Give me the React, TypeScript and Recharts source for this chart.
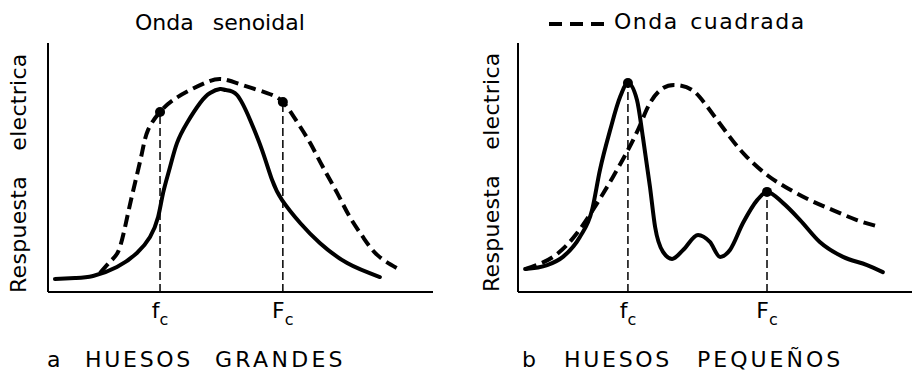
import { LineChart, Line, XAxis, YAxis, ReferenceLine, ReferenceDot } from "recharts";

const FONT = "'DejaVu Sans', sans-serif";

// x and y in 0-100 units of each plot box
// a: huesos grandes
const aSineX = [1.8, 7.0, 11.7, 17.9, 23.1, 26.5, 28.6, 29.9, 31.7, 33.5, 36.1, 39.5, 42.1, 44.7, 46.2, 49.1, 52.5, 55.6, 58.2, 60.8, 65.5, 70.6, 77.7, 86.2];
const aSineY = [5.2, 5.6, 6.4, 10.0, 15.7, 22.1, 30.1, 39.8, 50.2, 59.8, 67.9, 75.9, 79.9, 81.5, 81.1, 79.1, 69.1, 57.0, 45.0, 36.9, 27.7, 19.7, 11.6, 6.0];
const aSquareX = [13.5, 16.6, 18.7, 20.8, 22.6, 24.4, 26.0, 29.1, 32.5, 36.9, 41.3, 45.2, 50.6, 56.9, 61.0, 64.7, 68.1, 71.4, 75.1, 78.4, 81.8, 85.5, 90.6];
const aSquareY = [7.6, 12.9, 18.1, 31.7, 43.8, 55.8, 65.1, 72.3, 77.1, 81.1, 84.3, 85.5, 83.1, 79.9, 76.3, 68.3, 59.8, 50.2, 39.8, 30.1, 22.1, 14.9, 9.6];
const aTicks = [29.1, 61.0];
const aDotY = [72.3, 76.3];

// b: huesos pequenos
const bSineX = [1.8, 7.4, 11.4, 15.7, 18.8, 20.8, 23.4, 25.9, 27.9, 30.2, 31.7, 33.5, 34.8, 36.8, 39.1, 41.9, 45.7, 48.7, 51.3, 53.8, 57.1, 60.7, 63.2, 67.3, 71.6, 76.6, 82.5, 88.6, 92.6];
const bSineY = [9.2, 10.8, 14.1, 22.1, 32.9, 49.0, 65.1, 78.3, 83.9, 77.1, 62.2, 42.2, 26.1, 16.1, 13.3, 16.9, 22.9, 20.1, 14.1, 16.9, 27.7, 36.9, 40.2, 35.7, 28.9, 20.1, 14.1, 10.8, 8.0];
const bSquareX = [1.8, 8.9, 15.0, 20.1, 24.1, 27.9, 31.0, 33.5, 36.8, 40.4, 44.2, 48.0, 53.8, 58.1, 63.2, 68.3, 74.1, 79.9, 86.0, 91.9];
const bSquareY = [9.2, 14.1, 23.7, 35.7, 46.2, 57.0, 67.1, 75.9, 81.9, 83.1, 81.1, 74.5, 62.2, 54.2, 47.0, 41.8, 36.9, 32.9, 28.9, 26.1];
const bTicks = [27.9, 63.2];
const bDotY = [83.9, 40.2];

const tickLabels = ["f", "F"];
const tickSub = "c";

const toPoints = (xs: number[], ys: number[]) => xs.map((x, i) => ({ x, y: ys[i] }));

function FreqTick(props: any) {
  const { x, y, index } = props;
  return (
    <text x={x} y={y + 26} textAnchor="middle" fontFamily={FONT} fontSize={22} fill="#000">
      {tickLabels[index]}
      <tspan fontSize={16} dy={7}>{tickSub}</tspan>
    </text>
  );
}

function Panel({ sine, square, ticks, dotY, margin, sineCurve }: any) {
  return (
    <LineChart width={457} height={373} margin={margin}>
      <XAxis
        type="number"
        dataKey="x"
        domain={[0, 100]}
        ticks={ticks}
        interval={0}
        tickLine={false}
        tickSize={0}
        tickMargin={0}
        height={30}
        axisLine={{ stroke: "#000", strokeWidth: 2 }}
        tick={(p: any) => <FreqTick {...p} />}
        allowDataOverflow
      />
      <YAxis
        type="number"
        dataKey="y"
        domain={[0, 100]}
        tick={false}
        tickLine={false}
        width={1}
        axisLine={{ stroke: "#000", strokeWidth: 2 }}
        allowDataOverflow
      />
      {ticks.map((t: number, i: number) => (
        <ReferenceLine
          key={"l" + i}
          segment={[{ x: t, y: 0 }, { x: t, y: dotY[i] }]}
          stroke="#000"
          strokeWidth={1.5}
          strokeDasharray="8 4"
        />
      ))}
      <Line data={square} dataKey="y" type="natural" stroke="#000" strokeWidth={4} strokeDasharray="12 6" dot={false} isAnimationActive={false} />
      <Line data={sine} dataKey="y" type={sineCurve} stroke="#000" strokeWidth={4} strokeLinecap="round" dot={false} isAnimationActive={false} />
      {ticks.map((t: number, i: number) => (
        <ReferenceDot key={"d" + i} x={t} y={dotY[i]} r={5} fill="#000" stroke="none" />
      ))}
    </LineChart>
  );
}

export default function App() {
  const txt = { fontFamily: FONT, fontSize: 22, fill: "#000" };
  return (
    <div style={{ position: "absolute", left: 0, top: 0, width: 914, height: 373, background: "#fff" }}>
      <div style={{ position: "absolute", left: 0, top: 0 }}>
        <Panel
          sine={toPoints(aSineX, aSineY)}
          square={toPoints(aSquareX, aSquareY)}
          ticks={aTicks}
          dotY={aDotY}
          sineCurve="natural"
          margin={{ top: 43, right: 24, bottom: 51, left: 47 }}
        />
      </div>
      <div style={{ position: "absolute", left: 457, top: 0 }}>
        <Panel
          sine={toPoints(bSineX, bSineY)}
          square={toPoints(bSquareX, bSquareY)}
          ticks={bTicks}
          dotY={bDotY}
          sineCurve="monotone"
          margin={{ top: 43, right: 2, bottom: 51, left: 60 }}
        />
      </div>
      <svg width={914} height={373} style={{ position: "absolute", left: 0, top: 0, pointerEvents: "none" }}>
        <text x={135} y={30} {...txt} style={{ wordSpacing: 12 }}>Onda senoidal</text>
        <line x1={549} y1={24} x2={604} y2={24} stroke="#000" strokeWidth={4} strokeDasharray="13 8" />
        <text x={614} y={29} {...txt} style={{ letterSpacing: 1.5, wordSpacing: 3 }}>Onda cuadrada</text>

        <text {...txt} transform="translate(26,293) rotate(-90)" style={{ letterSpacing: 0.3, wordSpacing: 18 }}>Respuesta electrica</text>
        <text {...txt} transform="translate(499,292) rotate(-90)" style={{ letterSpacing: 0.3, wordSpacing: 18 }}>Respuesta electrica</text>

        <text x={47} y={367} {...txt}>a</text>
        <text x={85} y={367} {...txt} style={{ letterSpacing: 2.7 }}>HUESOS</text>
        <text x={215} y={367} {...txt} style={{ letterSpacing: 3.3 }}>GRANDES</text>
        <text x={522} y={367} {...txt}>b</text>
        <text x={564} y={367} {...txt} style={{ letterSpacing: 2.7 }}>HUESOS</text>
        <text x={697} y={367} {...txt} style={{ letterSpacing: 3 }}>PEQUEÑOS</text>
      </svg>
    </div>
  );
}
